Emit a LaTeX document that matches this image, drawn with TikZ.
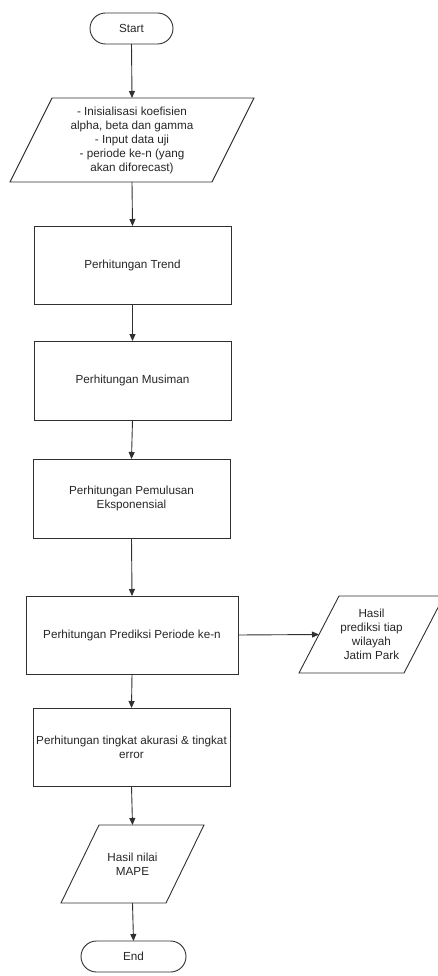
\documentclass[tikz,border=0pt]{standalone}
\usepackage{fontspec}
\setmainfont{Liberation Sans}
\usetikzlibrary{arrows.meta}
\definecolor{ln}{HTML}{303030}
\definecolor{tx}{HTML}{262626}
\tikzset{
  base/.style={inner sep=0pt, outer sep=0pt, align=center, text=tx,
    font=\fontsize{11.7pt}{14pt}\selectfont},
  term/.style={base, draw=ln, line width=0.9pt, rounded corners=15.5pt, minimum width=105pt, minimum height=31pt},
  proc/.style={base, draw=ln, line width=0.9pt, minimum width=197pt, minimum height=78pt},
  io/.style={base, minimum height=#1},
  flow/.style={draw=ln, line width=0.9pt, -{Triangle[width=6pt,length=7pt]}},
  para/.style={draw=ln, line width=0.9pt, line join=miter}
}
\newcommand{\pgram}[2]{% node, half slant
  \draw[para] ([xshift=#2]#1.north west) -- ([xshift=#2]#1.north east)
    -- ([xshift=-#2]#1.south east) -- ([xshift=-#2]#1.south west) -- cycle;}
\begin{document}
\begin{tikzpicture}[x=1pt,y=-1pt]
\useasboundingbox (0,0) rectangle (438,976);
\node[term, minimum width=83pt] (start) at (131.5,28.5) {Start};
\node[io=84pt, minimum width=202pt] (input) at (132,140)
  {- Inisialisasi koefisien\\alpha, beta dan gamma\\- Input data uji\\- periode ke-n (yang\\akan diforecast)};
\pgram{input}{21pt}
\node[proc] (trend) at (132.5,265) {Perhitungan Trend};
\node[proc, minimum height=79pt] (musim) at (132.5,380.5) {Perhitungan Musiman};
\node[proc, minimum height=79pt] (pemul) at (131.5,498.5) {Perhitungan Pemulusan\\Eksponensial};
\node[proc, minimum width=212pt] (pred) at (132,635) {Perhitungan Prediksi Periode ke-n};
\node[io=77pt, minimum width=105pt] (hasil) at (371.5,634.5) {Hasil\\prediksi tiap\\wilayah\\Jatim Park};
\pgram{hasil}{20pt}
\node[proc] (akur) at (131.5,747) {Perhitungan tingkat akurasi \& tingkat\\error};
\node[io=78pt, minimum width=105pt] (mape) at (132.5,864) {Hasil nilai\\MAPE};
\pgram{mape}{19pt}
\node[term] (end) at (133.5,956.5) {End};
\draw[flow] (start.south) -- (input.north);
\draw[flow] (input.south) -- (trend.north);
\draw[flow] (trend.south) -- (musim.north);
\draw[flow] (musim.south) -- (pemul.north);
\draw[flow] (pemul.south) -- (pred.north);
\draw[flow] (pred.east) -- (hasil.west);
\draw[flow] (pred.south) -- (akur.north);
\draw[flow] (akur.south) -- (mape.north);
\draw[flow] (mape.south) -- (end.north);
\end{tikzpicture}
\end{document}
